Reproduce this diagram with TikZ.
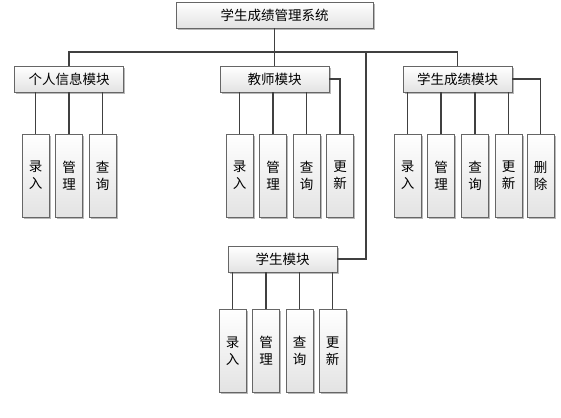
\documentclass[tikz,border=0pt]{standalone}
\usepackage{fontspec}
\newfontfamily\cjk{Noto Sans CJK SC}
\usetikzlibrary{shadows}

\begin{document}
\begin{tikzpicture}[x=1pt,y=-1pt,line width=1.2pt,
    box/.style={draw=gray!80!black,line width=0.8pt,top color=white,bottom color=gray!22,
      drop shadow={shadow xshift=1.8pt,shadow yshift=-1.8pt,fill=gray!55,opacity=1},
      inner sep=0pt,font=\cjk\fontsize{13.5}{17}\selectfont},
    module/.style={box,minimum width=109pt,minimum height=26pt},
    leaf/.style={box,minimum width=27pt,minimum height=83pt,align=center},
    link/.style={draw=black!75,line width=1.3pt}]

\useasboundingbox (0,0) rectangle (561,417);

\node[box, minimum width=197pt, minimum height=26pt] (sys) at (274.5,15) {学生成绩管理系统};

\node[module] (per) at (69,79) {个人信息模块};
\node[module] (tch) at (274.5,79) {教师模块};
\node[module] (grd) at (457.5,79) {学生成绩模块};
\node[module] (stu) at (282.5,259) {学生模块};

\coordinate (bus) at (274.5,52);
\coordinate (stuup) at (366,52);

% personal info
\node[leaf] (per1) at (35.5,175.5) {录\\入};
\node[leaf] (per2) at (69,175.5) {管\\理};
\node[leaf] (per3) at (102.5,175.5) {查\\询};

% teacher
\node[leaf] (tch1) at (239.5,175.5) {录\\入};
\node[leaf] (tch2) at (273,175.5) {管\\理};
\node[leaf] (tch3) at (306.5,175.5) {查\\询};
\node[leaf] (tch4) at (340,175.5) {更\\新};

% grades
\node[leaf] (grd1) at (407.5,175.5) {录\\入};
\node[leaf] (grd2) at (441,175.5) {管\\理};
\node[leaf] (grd3) at (475,175.5) {查\\询};
\node[leaf] (grd4) at (508.5,175.5) {更\\新};
\node[leaf] (grd5) at (540.5,175.5) {删\\除};

% student
\node[leaf] (stu1) at (232.5,351) {录\\入};
\node[leaf] (stu2) at (266,351) {管\\理};
\node[leaf] (stu3) at (299.5,351) {查\\询};
\node[leaf] (stu4) at (332.5,351) {更\\新};

\begin{scope}[on background layer/.try]
\path[link]
(sys.south) edge (tch.north)
(per.north) edge [to path={|- (\tikztotarget)}] (bus)
(bus) edge [to path={-| (\tikztotarget)}] (grd.north)
(stuup) edge [to path={|- (\tikztotarget)}] (stu.east)
(per1.north) edge (per1.north |- per.south)
(per2.north) edge (per2.north |- per.south)
(per3.north) edge (per3.north |- per.south)
(tch1.north) edge (tch1.north |- tch.south)
(tch2.north) edge (tch2.north |- tch.south)
(tch3.north) edge (tch3.north |- tch.south)
(tch.east) edge [to path={-| (\tikztotarget)}] (tch4.north)
(grd1.north) edge (grd1.north |- grd.south)
(grd2.north) edge (grd2.north |- grd.south)
(grd3.north) edge (grd3.north |- grd.south)
(grd4.north) edge (grd4.north |- grd.south)
(grd.east) edge [to path={-| (\tikztotarget)}] (grd5.north)
(stu1.north) edge (stu1.north |- stu.south)
(stu2.north) edge (stu2.north |- stu.south)
(stu3.north) edge (stu3.north |- stu.south)
(stu4.north) edge (stu4.north |- stu.south);
\end{scope}

\end{tikzpicture}
\end{document}
